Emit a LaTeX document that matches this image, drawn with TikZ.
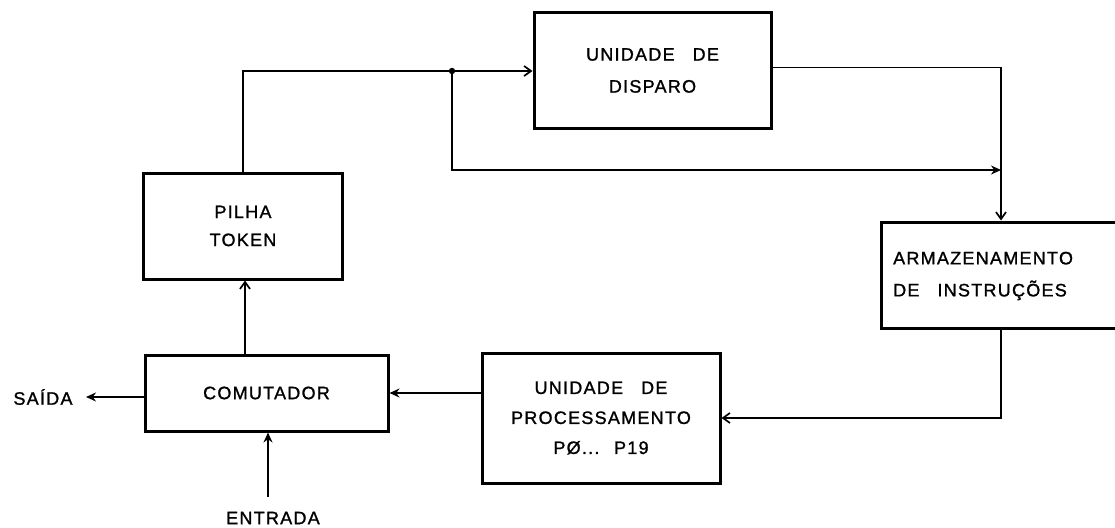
\documentclass[tikz,border=0pt]{standalone}
\usepackage{fontspec}
\setmainfont{Liberation Sans}[LetterSpace=7.0,FakeBold=1.2]
\usetikzlibrary{arrows.meta}
\begin{document}
\begin{tikzpicture}[x=1pt,y=-1pt,
  box/.style={draw,line width=3pt,inner sep=0pt,align=center,
    font=\fontsize{18}{28}\selectfont},
  lbl/.style={inner sep=0pt,font=\fontsize{18}{32}\selectfont},
  conn/.style={line width=1.4pt},
  fa/.style={-{Stealth[length=10pt,width=9pt]}},
  ba/.style={-{Straight Barb[length=7pt,width=10pt,line width=1.7pt]}}]
\useasboundingbox (0,0) rectangle (1115,527);
\fill[white] (0,0) rectangle (1115,527);
% boxes
\node[box,minimum width=199pt,minimum height=106pt] (pilha) at (243,226) {PILHA\\TOKEN};
\node[box,minimum width=237pt,minimum height=115pt,font=\fontsize{18}{32}\selectfont] (disp) at (652.5,70.5) {UNIDADE\quad DE\\DISPARO};
\node[box,minimum width=240pt,minimum height=106pt] (arm) at (1001,275) {};
\node[lbl,anchor=west,align=left] (armtext) at (893,276) {ARMAZENAMENTO\\DE\quad INSTRUÇÕES};
\node[box,minimum width=238pt,minimum height=130pt,font=\fontsize{18}{30}\selectfont] (proc) at (601,418) {UNIDADE\quad DE\\PROCESSAMENTO\\PØ... \ P19};
\node[box,minimum width=243pt,minimum height=76pt] (comut) at (266.5,393) {COMUTADOR};
\node[lbl] (saida) at (43,397) {SAÍDA};
\node[lbl] (entrada) at (273,518) {ENTRADA};
% helper coordinates
\coordinate (j) at (452,71);
\coordinate (rv) at (1001,0);
\coordinate (lb) at (0,170);
\coordinate (pv) at (245,0);
\coordinate (so) at (86,397);
\coordinate (e0) at (268,497);
% connectors
\draw[conn] (pilha.north) |- (j);
\draw[conn,ba] (j) -- (disp.west |- j);
\draw[conn,ba] ([yshift=3pt]disp.east) -| (rv |- arm.north);
\draw[conn,fa] (j) |- (rv |- lb);
\draw[conn,ba] (rv |- arm.south) |- (proc.east);
\draw[conn,fa] (proc.west |- comut.east) -- (comut.east);
\draw[conn,ba] (comut.north -| pv) -- (pilha.south -| pv);
\draw[conn,fa] (comut.west |- so) -- (so);
\draw[conn,fa] (e0) -- (comut.south -| e0);
\fill (j) circle (3.2);
\end{tikzpicture}
\end{document}
